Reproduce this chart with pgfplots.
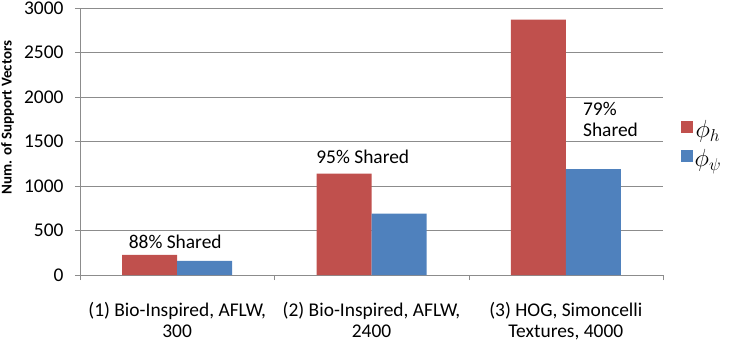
\documentclass[border=0pt]{standalone}
\usepackage{pgfplots}
\pgfplotsset{compat=1.18}
\usepackage{fontspec}
\setmainfont{Carlito}
\definecolor{exred}{HTML}{C0504D}
\definecolor{exblue}{HTML}{4F81BD}
\definecolor{gridgray}{HTML}{8C8C8C}
\begin{document}
\begin{tikzpicture}
\useasboundingbox (0,0) rectangle (732bp,342bp);
\begin{axis}[
  at={(80bp,67bp)}, anchor=south west,
  scale only axis, width=583bp, height=267bp,
  /pgf/number format/assume math mode=true,
  /pgf/number format/1000 sep={},
  ybar=0pt, bar width=55bp,
  xmin=-0.5, xmax=2.5, ymin=0, ymax=3000,
  ytick={0,500,...,3000},
  xtick={0,1,2},
  xticklabels={{(1) Bio-Inspired, AFLW,\\300},{(2) Bio-Inspired, AFLW,\\2400},{(3) HOG, Simoncelli\\Textures, 4000}},
  x tick label style={align=center, font=\fontsize{19.5}{21}\selectfont, yshift=-19bp},
  y tick label style={font=\fontsize{19.5}{21}\selectfont, xshift=-8bp},
  major x tick style={draw=none},
  minor xtick={-0.5,0.5,1.5,2.5},
  minor x tick style={draw=gridgray},
  tick align=outside,
  major tick length=5bp, minor tick length=5bp,
  y tick style={draw=gridgray},
  axis lines*=left,
  axis line style={draw=gridgray, -},
  ymajorgrids, grid style={draw=gridgray, line width=0.6pt},
  ylabel={\bfseries Num. of Support Vectors},
  ylabel style={at={(axis description cs:-0.124,0.59)}, anchor=center, font=\fontsize{15}{17}\selectfont},
  legend style={at={(axis description cs:1.03,0.49)}, anchor=west, draw=none, fill=none,
    font=\fontsize{23}{25}\selectfont, row sep=6bp, inner sep=0pt},
  legend image code/.code={\fill[#1] (0bp,-3bp) rectangle (12bp,9bp);},
  clip=false,
]
\addplot[fill=exred, draw=none] coordinates {(0,225) (1,1140) (2,2870)};
\addplot[fill=exblue, draw=none] coordinates {(0,160) (1,690) (2,1190)};
\legend{$\phi_h$,$\phi_\psi$}
\node[font=\fontsize{19.5}{21}\selectfont] at (axis cs:-0.01,370) {88\% Shared};
\node[font=\fontsize{19.5}{21}\selectfont] at (axis cs:0.955,1326) {95\% Shared};
\node[font=\fontsize{19.5}{21}\selectfont, align=left] at (axis cs:2.23,1750) {79\%\\Shared};
\end{axis}
\end{tikzpicture}
\end{document}
